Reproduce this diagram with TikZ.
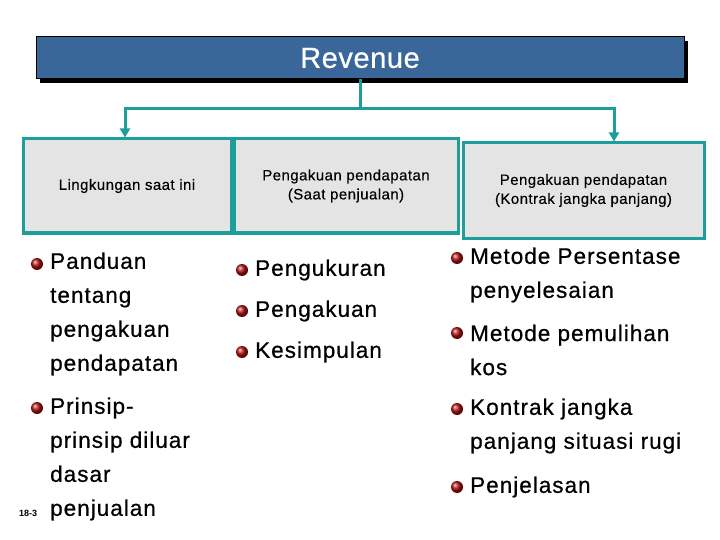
\documentclass[tikz,border=0pt]{standalone}
\usepackage{fontspec}
\setmainfont{Liberation Sans}
\usetikzlibrary{arrows.meta}
\definecolor{teal1}{HTML}{1E9E9A}
\definecolor{revblue}{HTML}{3A679A}
\definecolor{boxgray}{HTML}{E4E4E4}
\definecolor{ballred}{HTML}{B01010}
\begin{document}
\begin{tikzpicture}[x=1pt,y=-1pt,
  catbox/.style={draw=teal1,line width=3pt,fill=boxgray,inner sep=0pt,align=center,font=\fontsize{15}{19}\selectfont\addfontfeatures{LetterSpace=3,FakeBold=0.3}},
  conn/.style={teal1,line width=3pt,-{Triangle[length=9pt,width=10pt]}},
  item/.style={anchor=west,align=left,inner sep=0pt,font=\fontsize{22.5}{34}\selectfont\addfontfeatures{LetterSpace=4.5,FakeBold=0.6}},
  ball/.style={circle,inner sep=0pt,minimum size=12pt,ball color=ballred,draw=none}]
\useasboundingbox (0,0) rectangle (720,540);
\fill[white] (0,0) rectangle (720,540);
\fill[black] (40,41) rectangle (688,83);
\node[draw=black,line width=1pt,fill=revblue,minimum width=648pt,minimum height=42pt,inner sep=0pt,text=white,font=\fontsize{29}{32}\selectfont\addfontfeatures{LetterSpace=2,FakeBold=0.6}] (rev) at (360,58) {Revenue};
\node[catbox,minimum width=208pt,minimum height=94pt] (b1) at (127,186) {Lingkungan saat ini};
\node[catbox,minimum width=224pt,minimum height=94pt] (b2) at (346,186) {Pengakuan pendapatan\\(Saat penjualan)};
\node[catbox,minimum width=241pt,minimum height=95pt] (b3) at (583.5,190.5) {Pengakuan pendapatan\\(Kontrak jangka panjang)};
\coordinate (j) at (360,109);
\draw[teal1,line width=3pt] (rev.south) -- (j);
\draw[conn] (j) -| (b1.north -| 125,0);
\draw[conn] (j) -| (b3.north -| 614,0);
% left column
\node[ball] (l1) at (37,264) {};
\node[item] (t1) at (50,314) {Panduan\\tentang\\pengakuan\\pendapatan};
\node[ball] (l2) at (37,408) {};
\node[item] (t2) at (50,459) {Prinsip-\\prinsip diluar\\dasar\\penjualan};
\node[anchor=west,inner sep=0pt,font=\fontsize{9}{10}\selectfont\bfseries] (pg) at (19,513) {18-3};
% middle
\node[ball] (m1) at (242,270) {};
\node[item] (tm1) at (255,270) {Pengukuran};
\node[ball] (m2) at (242,311) {};
\node[item] (tm2) at (255,311) {Pengakuan};
\node[ball] (m3) at (242,352) {};
\node[item] (tm3) at (255,352) {Kesimpulan};
% right
\node[ball] (r1) at (457,258) {};
\node[item] (tr1) at (470,275) {Metode Persentase\\penyelesaian};
\node[ball] (r2) at (457,333) {};
\node[item] (tr2) at (470,350) {Metode pemulihan\\kos};
\node[ball] (r3) at (457,409) {};
\node[item] (tr3) at (470,426) {Kontrak jangka\\panjang situasi rugi};
\node[ball] (r4) at (457,487) {};
\node[item] (tr4) at (470,487) {Penjelasan};
\end{tikzpicture}
\end{document}
